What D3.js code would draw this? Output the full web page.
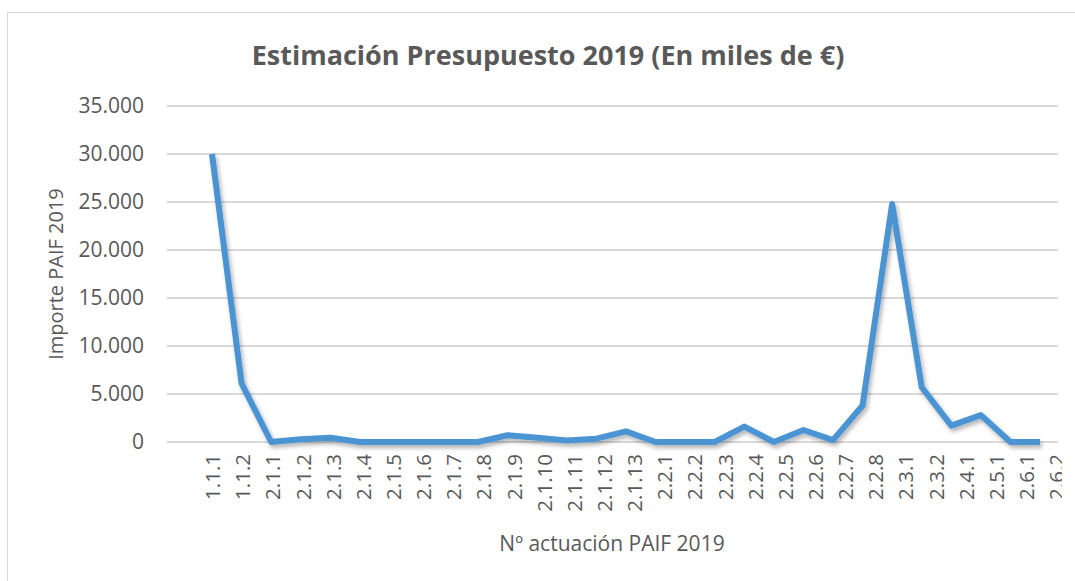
<!DOCTYPE html>
<html>
<head>
<meta charset="utf-8">
<script src="https://cdn.jsdelivr.net/npm/d3@7"></script>
<style>
  body { margin: 0; background: #fff; }
  text { font-family: "Open Sans", sans-serif; fill: #595959; }
</style>
</head>
<body>
<svg id="chart" width="1075" height="581"></svg>
<script>
// Données du graphique
const categories = ["1.1.1", "1.1.2", "2.1.1", "2.1.2", "2.1.3", "2.1.4", "2.1.5", "2.1.6", "2.1.7",
  "2.1.8", "2.1.9", "2.1.10", "2.1.11", "2.1.12", "2.1.13", "2.2.1", "2.2.2", "2.2.3", "2.2.4",
  "2.2.5", "2.2.6", "2.2.7", "2.2.8", "2.3.1", "2.3.2", "2.4.1", "2.5.1", "2.6.1", "2.6.2"];
const importe = [30000, 6100, 0, 280, 450, 0, 0, 0, 0, 0, 700, 450, 150, 350, 1100, 0, 0, 0, 1600,
  0, 1250, 200, 3800, 24800, 5700, 1700, 2800, 0, 0];
const yTicks = [0, 5000, 10000, 15000, 20000, 25000, 30000, 35000];
const yTickLabels = ["0", "5.000", "10.000", "15.000", "20.000", "25.000", "30.000", "35.000"];

const svg = d3.select("#chart");

// Cadre du graphique
svg.append("rect")
    .attr("x", 7.5).attr("y", 12.5)
    .attr("width", 1100).attr("height", 620)
    .attr("fill", "none")
    .attr("stroke", "#d9d9d9");

// Echelles
const y = d3.scaleLinear().domain([0, 35000]).range([442, 106]);
const x = d3.scalePoint().domain(categories).range([212, 1040]);
const xLabels = d3.scalePoint().domain(categories).range([213, 1057]);

// Titre
svg.append("text")
    .attr("x", 548).attr("y", 65)
    .attr("text-anchor", "middle")
    .style("font-size", "27px")
    .style("font-weight", "bold")
    .text("Estimación Presupuesto 2019 (En miles de €)");

// Grille horizontale
svg.append("g").selectAll("line")
    .data(yTicks)
    .enter().append("line")
    .attr("x1", 167).attr("x2", 1058)
    .attr("y1", d => y(d)).attr("y2", d => y(d))
    .attr("stroke", "#d9d9d9")
    .attr("stroke-width", 2);

// Etiquettes de l'axe Y
svg.append("g").selectAll("text")
    .data(yTicks)
    .enter().append("text")
    .attr("x", 144)
    .attr("y", d => y(d))
    .attr("dy", ".35em")
    .attr("text-anchor", "end")
    .style("font-size", "21px")
    .text((d, i) => yTickLabels[i]);

// Etiquettes de l'axe X (tournées)
svg.append("clipPath").attr("id", "clipx")
    .append("rect").attr("x", 0).attr("y", 0).attr("width", 1062).attr("height", 581);

svg.append("g")
    .attr("clip-path", "url(#clipx)")
    .selectAll("text")
    .data(categories)
    .enter().append("text")
    .attr("transform", d => `translate(${xLabels(d)},454) rotate(-90)`)
    .attr("dy", ".35em")
    .attr("text-anchor", "end")
    .style("font-size", "20.5px")
    .text(d => d);

// Titres des axes
svg.append("text")
    .attr("x", 612).attr("y", 551)
    .attr("text-anchor", "middle")
    .style("font-size", "21px")
    .text("Nº actuación PAIF 2019");

svg.append("text")
    .attr("transform", "translate(63,274) rotate(-90)")
    .attr("text-anchor", "middle")
    .style("font-size", "20px")
    .text("Importe PAIF 2019");

// Ombre de la ligne
const defs = svg.append("defs");
defs.append("filter").attr("id", "shadow")
    .attr("x", "-5%").attr("y", "-5%").attr("width", "110%").attr("height", "110%")
    .append("feDropShadow")
    .attr("dx", 2).attr("dy", 3)
    .attr("stdDeviation", 2)
    .attr("flood-color", "#000")
    .attr("flood-opacity", 0.3);

// Ligne des données
const line = d3.line()
    .x((d, i) => x(categories[i]))
    .y(d => y(d));

svg.append("path")
    .datum(importe)
    .attr("d", line)
    .attr("fill", "none")
    .attr("stroke", "#4b94d3")
    .attr("stroke-width", 6)
    .attr("stroke-linejoin", "round")
    .attr("filter", "url(#shadow)");
</script>
</body>
</html>
